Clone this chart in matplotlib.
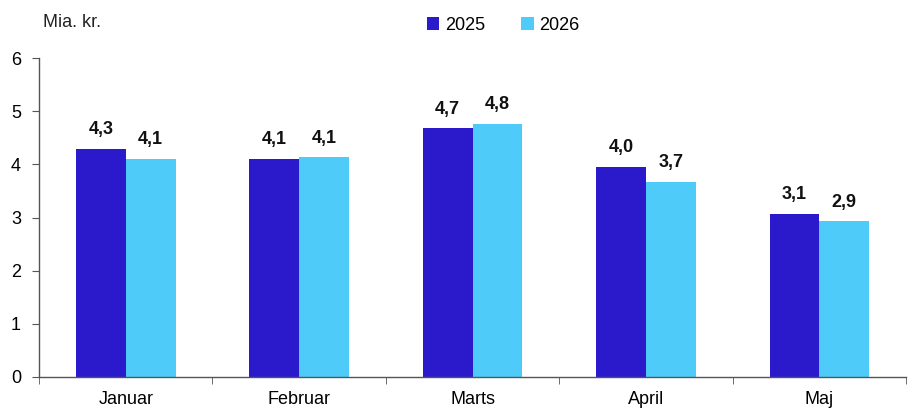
import matplotlib
matplotlib.use('Agg')
import matplotlib.pyplot as plt
import numpy as np

# data
months = ['Januar', 'Februar', 'Marts', 'April', 'Maj']
v2025 = [4.29, 4.10, 4.68, 3.95, 3.07]
v2026 = [4.10, 4.13, 4.76, 3.67, 2.93]
lab2025 = ['4,3', '4,1', '4,7', '4,0', '3,1']
lab2026 = ['4,1', '4,1', '4,8', '3,7', '2,9']

plt.rcParams['font.family'] = ['Liberation Sans', 'DejaVu Sans']

c25 = '#2a1acb'
c26 = '#4fcbf9'
axis_col = '#555555'

fig = plt.figure(figsize=(9.08, 4.12), dpi=100)
ax = fig.add_axes([0.043, 0.085, 0.955, 0.774])

x = np.arange(len(months))
w = 0.287
b1 = ax.bar(x - w / 2, v2025, w, color=c25, label='2025')
b2 = ax.bar(x + w / 2, v2026, w, color=c26, label='2026')

for bars, labs in ((b1, lab2025), (b2, lab2026)):
    for bar, lab in zip(bars, labs):
        ax.text(bar.get_x() + bar.get_width() / 2, bar.get_height() + 0.2, lab,
                ha='center', va='bottom', fontsize=13, fontweight='bold', color='#111111')

ax.set_xlim(-0.5, len(months) - 0.5)
ax.set_ylim(0, 6)
ax.set_yticks(range(0, 7))
ax.set_xticks(x)
ax.set_xticklabels(months)
ax.set_xticks(np.arange(-0.5, len(months)), minor=True)
ax.tick_params(axis='x', which='major', length=0, pad=10, labelsize=13)
ax.tick_params(axis='x', which='minor', length=5, color=axis_col, direction='out')
ax.tick_params(axis='y', length=5, color=axis_col, labelsize=13, pad=8)

for s in ('top', 'right'):
    ax.spines[s].set_visible(False)
for s in ('left', 'bottom'):
    ax.spines[s].set_color(axis_col)
    ax.spines[s].set_linewidth(1)

fig.text(0.047, 0.935, 'Mia. kr.', fontsize=13, ha='left', va='baseline', color='#222222')

ax.legend(loc='upper center', bbox_to_anchor=(0.535, 1.18), ncol=2, frameon=False,
          fontsize=13, handlelength=0.7, handleheight=0.7, handletextpad=0.3,
          columnspacing=2.0)

fig.savefig('out.png', dpi=100)
